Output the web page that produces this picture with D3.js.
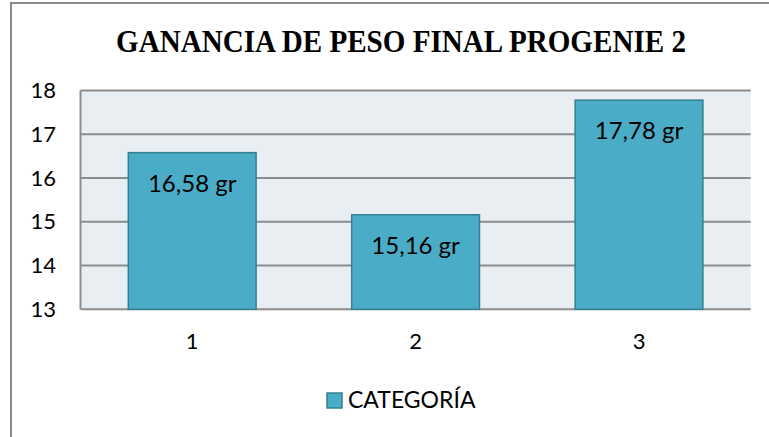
<!DOCTYPE html>
<html><head><meta charset="utf-8">
<script src="https://cdn.jsdelivr.net/npm/d3@7"></script>
<style>html,body{margin:0;padding:0;background:#fff;}svg{display:block;}</style>
</head><body>
<svg id="chart" width="769" height="437"></svg>
<script>
const categories = ["1", "2", "3"];
const values = [16.58, 15.16, 17.78];
const valueLabels = ["16,58 gr", "15,16 gr", "17,78 gr"];
const yTicks = [13, 14, 15, 16, 17, 18];
const seriesName = "CATEGORÍA";
const title = "GANANCIA DE PESO FINAL PROGENIE 2";

const svg = d3.select("#chart");
const font = "Lato, 'Open Sans', sans-serif";

// outer border
svg.append("rect").attr("x", 11).attr("y", 3).attr("width", 800).attr("height", 500)
  .attr("fill", "#fff").attr("stroke", "#8a8a8a").attr("stroke-width", 2);

const plot = {left: 80.5, top: 90.5, right: 750.7, bottom: 309.3};
const x = d3.scaleBand().domain(categories).range([plot.left, plot.right])
  .paddingInner(0.428).paddingOuter(0.214);
const y = d3.scaleLinear().domain([13, 18]).range([plot.bottom, plot.top]);

svg.append("rect").attr("x", plot.left).attr("y", plot.top)
  .attr("width", plot.right - plot.left).attr("height", plot.bottom - plot.top)
  .attr("fill", "#e8eef2");

// gridlines
svg.append("g").selectAll("line").data(yTicks).join("line")
  .attr("x1", plot.left).attr("x2", plot.right)
  .attr("y1", d => y(d)).attr("y2", d => y(d))
  .attr("stroke", "#8c8c8c").attr("stroke-width", 2);
svg.append("line").attr("x1", plot.left).attr("x2", plot.left)
  .attr("y1", plot.top).attr("y2", plot.bottom)
  .attr("stroke", "#8c8c8c").attr("stroke-width", 2);

// y axis
const yAxis = d3.axisLeft(y).tickValues(yTicks).tickSize(0).tickPadding(0).tickFormat(d3.format("d"));
const ya = svg.append("g").attr("transform", `translate(56,0)`).call(yAxis);
ya.select(".domain").remove();
ya.selectAll("text").attr("font-family", font).attr("font-size", 22).attr("fill", "#000");

// x axis
const xAxis = d3.axisBottom(x).tickSize(0).tickPadding(0);
const xa = svg.append("g").attr("transform", `translate(0,${plot.bottom + 24})`).call(xAxis);
xa.select(".domain").remove();
xa.selectAll("text").attr("font-family", font).attr("font-size", 22).attr("fill", "#000");

// bars
svg.append("g").selectAll("rect").data(values).join("rect")
  .attr("x", (d, i) => x(categories[i])).attr("width", x.bandwidth())
  .attr("y", d => y(d)).attr("height", d => y(13) - y(d))
  .attr("fill", "#4aacc6").attr("stroke", "#357f93").attr("stroke-width", 1.5);

svg.append("g").selectAll("text").data(values).join("text")
  .attr("x", (d, i) => x(categories[i]) + x.bandwidth() / 2)
  .attr("y", d => y(d) + 39)
  .attr("text-anchor", "middle").attr("font-family", font).attr("font-size", 24)
  .attr("fill", "#000").text((d, i) => valueLabels[i]);

// title
svg.append("text").attr("x", 401).attr("y", 52).attr("text-anchor", "middle")
  .attr("font-family", "'Liberation Serif', 'Times New Roman', serif").attr("font-weight", "bold")
  .attr("font-size", 31).attr("textLength", 570).attr("lengthAdjust", "spacingAndGlyphs")
  .attr("fill", "#000").text(title);

// legend
const lg = svg.append("g");
lg.append("rect").attr("x", 327).attr("y", 393).attr("width", 15).attr("height", 15)
  .attr("fill", "#4aacc6").attr("stroke", "#357f93").attr("stroke-width", 1.5);
lg.append("text").attr("x", 348).attr("y", 408).attr("font-family", font).attr("font-size", 23)
  .attr("fill", "#000").text(seriesName);
</script>
</body></html>
